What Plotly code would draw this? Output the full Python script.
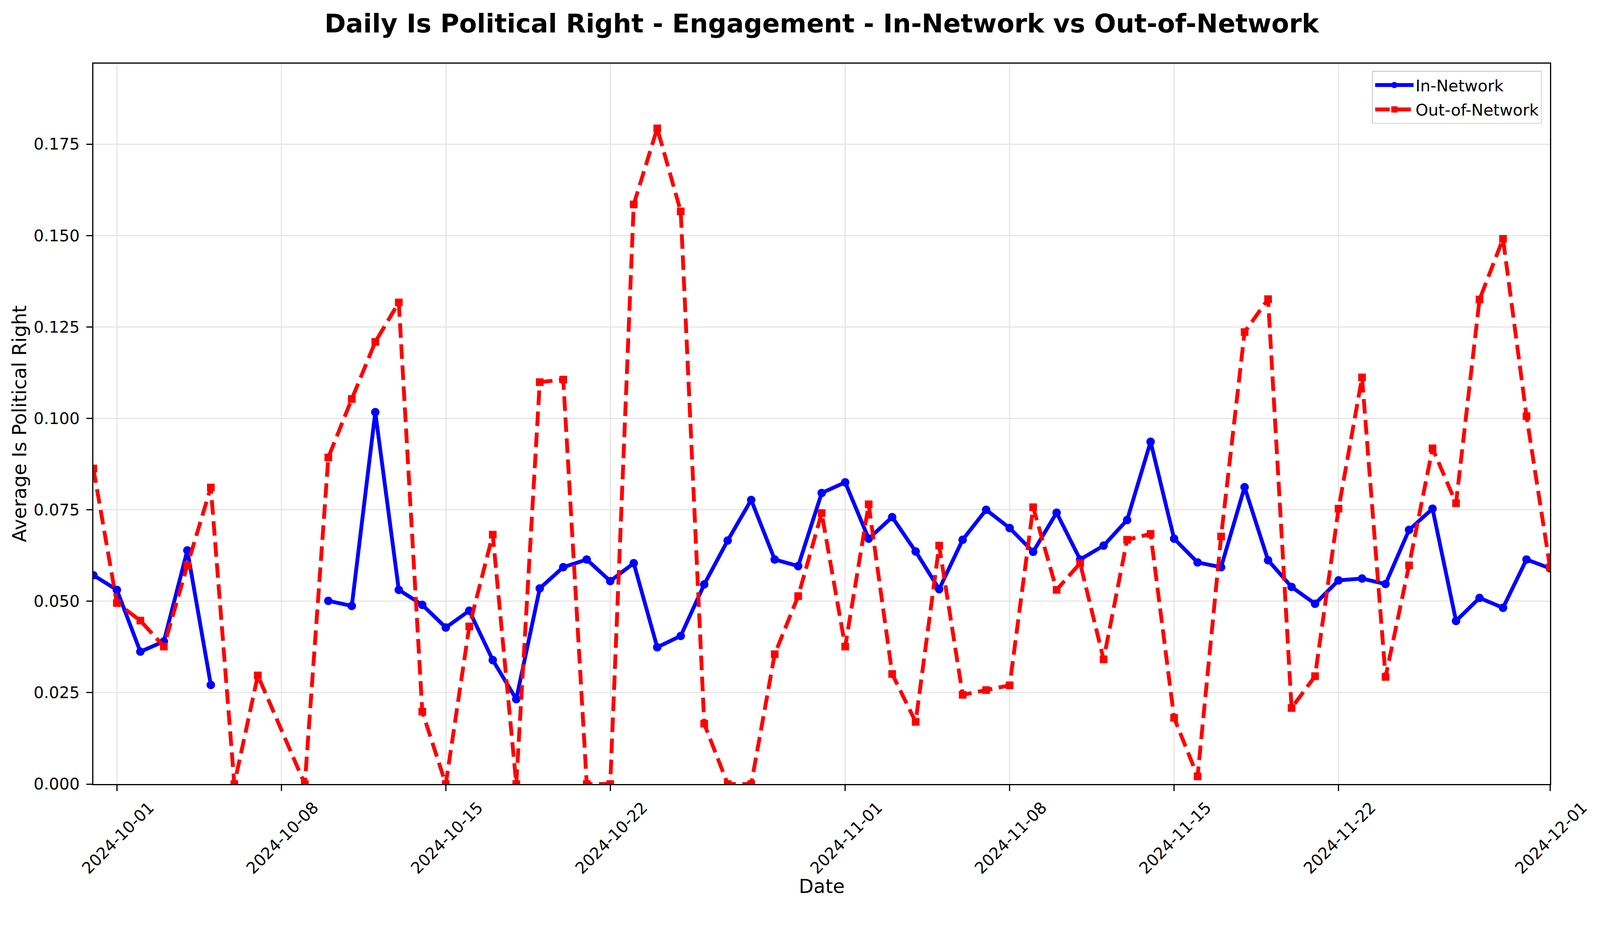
import pandas as pd
import plotly.graph_objects as go

# daily dates, 2024-10-08 has no row in the data
missing_dates = ["2024-10-08"]
dates = [d for d in pd.date_range("2024-09-30", "2024-12-01", freq="D")
         if d.strftime("%Y-%m-%d") not in missing_dates]

# average is_political_right, in-network (None = no value that day)
in_network = [
    0.0571, 0.0531, 0.0362, 0.0390, 0.0639, 0.0271, None, None, None,   # 09-30 .. 10-09
    0.0501, 0.0487, 0.1017, 0.0531, 0.0490, 0.0428, 0.0474, 0.0339, 0.0232,  # 10-10 .. 10-18
    0.0535, 0.0593, 0.0614, 0.0555, 0.0604, 0.0374, 0.0405, 0.0546, 0.0666,
    0.0777, 0.0614, 0.0596, 0.0796,                                       # 10-19 .. 10-31
    0.0825, 0.0671, 0.0730, 0.0636, 0.0533, 0.0668, 0.0750, 0.0700, 0.0635,
    0.0742, 0.0614, 0.0652, 0.0722, 0.0936, 0.0671, 0.0606, 0.0593, 0.0812,
    0.0612, 0.0539, 0.0493, 0.0557, 0.0562, 0.0547, 0.0695, 0.0753, 0.0446,
    0.0509, 0.0482, 0.0614,                                               # 11-01 .. 11-30
    0.0590,                                                               # 12-01
]

# average is_political_right, out-of-network
out_network = [
    0.0863, 0.0495, 0.0447, 0.0376, 0.0598, 0.0811, 0.0, 0.0297, 0.0,
    0.0893, 0.1053, 0.1209, 0.1317, 0.0198, 0.0, 0.0431, 0.0682, 0.0,
    0.1099, 0.1106, 0.0, 0.0, 0.1585, 0.1793, 0.1566, 0.0165, 0.0,
    0.0, 0.0355, 0.0514, 0.0741,
    0.0376, 0.0765, 0.0301, 0.0170, 0.0652, 0.0244, 0.0257, 0.0270, 0.0757,
    0.0531, 0.0604, 0.0341, 0.0668, 0.0684, 0.0181, 0.0021, 0.0677, 0.1236,
    0.1326, 0.0208, 0.0295, 0.0753, 0.1112, 0.0293, 0.0598, 0.0918, 0.0768,
    0.1325, 0.1491, 0.1006,
    0.0593,
]

x_ticks = ["2024-10-01", "2024-10-08", "2024-10-15", "2024-10-22", "2024-11-01",
           "2024-11-08", "2024-11-15", "2024-11-22", "2024-12-01"]
y_ticks = [0.0, 0.025, 0.05, 0.075, 0.1, 0.125, 0.15, 0.175]

FONT = "DejaVu Sans"

# the screenshot comes out ~1.75% larger than css px, and the page body adds 8px
K = 1.0175
OFF = 8


def px(v):
    # picture pixels -> css pixels
    return v / K


W = px(4167) - OFF
H = px(2369) - OFF
L = px(243) - OFF
T = px(166) - OFF
R = W - (px(4038) - OFF)
B = H - (px(2043) - OFF)

fig = go.Figure()
fig.add_trace(go.Scatter(
    x=dates, y=in_network, name="In-Network", mode="lines+markers",
    connectgaps=False, legendgroup="in",
    line=dict(color="#0000ff", width=px(10)),
    marker=dict(symbol="circle", size=px(22), color="#0000ff"),
))
fig.add_trace(go.Scatter(
    x=dates, y=out_network, name="Out-of-Network", mode="lines+markers",
    legendgroup="out",
    line=dict(color="#ff0000", width=px(10), dash=f"{px(38):.1f}px,{px(17):.1f}px"),
    marker=dict(symbol="square", size=px(20), color="#ff0000"),
))

fig.update_layout(
    width=round(W), height=round(H),
    margin=dict(l=L, r=R, t=T, b=B, autoexpand=False),
    paper_bgcolor="white", plot_bgcolor="white",
    font=dict(family=FONT, size=px(42), color="black"),
    title=dict(text="<b>Daily Is Political Right - Engagement - In-Network vs Out-of-Network</b>",
               font=dict(family=FONT, size=px(67), color="black"),
               x=0.5, xref="paper", xanchor="center",
               y=1 - (px(61) - OFF) / H, yref="container", yanchor="middle"),
    showlegend=True,
    legend=dict(x=0.9945, y=0.99, xanchor="right", yanchor="top",
                bgcolor="rgba(255,255,255,0.8)", bordercolor="#d4d4d4", borderwidth=px(3),
                font=dict(family=FONT, size=px(42), color="black"),
                itemwidth=px(100), tracegroupgap=px(6)),
    xaxis=dict(
        type="date", range=["2024-09-30", "2024-12-01"],
        tickvals=x_ticks, tickformat="%Y-%m-%d", tickangle=-45,
        ticklabelshift=round(px(84)), ticklabelstandoff=2,
        ticks="outside", ticklen=px(15), tickwidth=px(3), tickcolor="black",
        showline=True, linecolor="black", linewidth=px(3), mirror=True,
        showgrid=True, gridcolor="#e6e6e6", gridwidth=px(3), zeroline=False,
        tickfont=dict(family=FONT, size=px(42), color="black"),
    ),
    yaxis=dict(
        range=[0, 0.197], tickvals=y_ticks, tickformat=".3f",
        ticks="outside", ticklen=px(15), tickwidth=px(3), tickcolor="black",
        ticklabelstandoff=round(px(9)),
        showline=True, linecolor="black", linewidth=px(3), mirror=True,
        showgrid=True, gridcolor="#e6e6e6", gridwidth=px(3), zeroline=False,
        tickfont=dict(family=FONT, size=px(42), color="black"),
    ),
)

# axis titles placed like the matplotlib original
fig.add_annotation(text="Date", xref="paper", yref="paper", x=0.5, y=0,
                   yshift=-px(2310 - 2043), xanchor="center", yanchor="middle",
                   showarrow=False, font=dict(family=FONT, size=px(50), color="black"))
fig.add_annotation(text="Average Is Political Right", xref="paper", yref="paper",
                   x=0, y=0.5, xshift=-px(243 - 50), xanchor="center", yanchor="middle",
                   textangle=-90, showarrow=False,
                   font=dict(family=FONT, size=px(50), color="black"))

fig.write_html("out.html")
